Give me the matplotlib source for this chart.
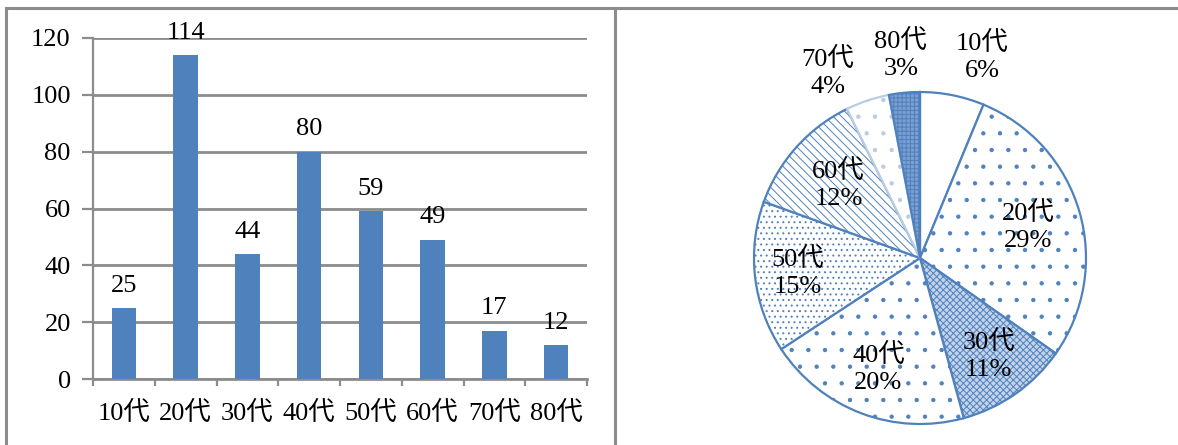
import numpy as np
import matplotlib
matplotlib.use('Agg')
import matplotlib.pyplot as plt
from matplotlib.lines import Line2D

# age groups and respondent counts
ages   = ['10代', '20代', '30代', '40代', '50代', '60代', '70代', '80代']
counts = [25, 114, 44, 80, 59, 49, 17, 12]
yticks = [0, 20, 40, 60, 80, 100, 120]

FONT = ['Liberation Serif', 'Noto Sans CJK JP', 'DejaVu Sans']
plt.rcParams['font.family'] = FONT
plt.rcParams['hatch.linewidth'] = 0.7

BLUE = '#4F81BD'
GRID = '#8c8c8c'
FS = 19

W, H = 1178, 445
fig = plt.figure(figsize=(W / 100, H / 100), dpi=100)

# outer frame lines around the two panels
for xs, ys in [((6, 1178), (8, 8)), ((6, 6), (8, 445)), ((615, 615), (8, 445))]:
    fig.add_artist(Line2D([x / W for x in xs], [1 - y / H for y in ys],
                          color=GRID, lw=2.2, transform=fig.transFigure))

# ---- bar chart ----
ax = fig.add_axes([93 / W, 1 - 379 / H, (587 - 93) / W, (379 - 38) / H])
x = np.arange(len(ages))
ax.bar(x, counts, width=0.4, color=BLUE, zorder=3)
ax.set_xlim(-0.5, len(ages) - 0.5)
ax.set_ylim(0, 120)
ax.set_yticks(yticks)
ax.set_yticklabels([str(v) for v in yticks], fontsize=FS)
ax.tick_params(axis='y', length=8, width=1.6, color=GRID, pad=8)
ax.yaxis.grid(True, color=GRID, lw=2, zorder=0)
ax.set_xticks(np.arange(len(ages) + 1) - 0.5)
ax.set_xticklabels([])
ax.tick_params(axis='x', length=5, width=1.6, color=GRID)
for i, a in enumerate(ages):
    ax.text(i, -12, a, ha='center', va='center', fontsize=FS)
for i, v in enumerate(counts):
    ax.text(i, v + 4, str(v), ha='center', va='bottom', fontsize=FS)
for s in ['top', 'right']:
    ax.spines[s].set_visible(False)
ax.spines['left'].set_color(GRID)
ax.spines['left'].set_linewidth(1.6)
ax.spines['bottom'].set_color(GRID)
ax.spines['bottom'].set_linewidth(2)

# ---- pie chart ----
cx, cy, r = 920, 258, 166
ax2 = fig.add_axes([(cx - r) / W, 1 - (cy + r) / H, 2 * r / W, 2 * r / H])
wedges, _ = ax2.pie(counts, startangle=90, counterclock=False, radius=1,
                    wedgeprops=dict(linewidth=1.6, edgecolor=BLUE, facecolor='white'))
ax2.set_xlim(-1, 1)
ax2.set_ylim(-1, 1)
ax2.set_aspect('auto')
ax2.axis('off')

hatches = [None, '.', 'xxxxx', '.', '...', '\\\\\\\\', '.', '++++']
faces = ['white', 'white', '#c3d3ea', 'white', 'white', 'white', 'white', '#7a9fd0']
edges = [BLUE, BLUE, BLUE, BLUE, BLUE, BLUE, '#b8cce4', BLUE]
for w, h, fc, ec in zip(wedges, hatches, faces, edges):
    w.set_facecolor(fc)
    w.set_edgecolor(ec)
    if h:
        w.set_hatch(h)

total = sum(counts)
dists = [1.27, 0.68, 0.72, 0.71, 0.74, 0.66, 1.25, 1.23]
nudge = [-6, 0, 0, 0, 0, 0, 8, 0]
for w, a, v, d, n in zip(wedges, ages, counts, dists, nudge):
    ang = np.deg2rad((w.theta1 + w.theta2) / 2 + n)
    # round half up on exact integers
    pct = (v * 200 + total) // (2 * total)
    ax2.text(d * np.cos(ang), d * np.sin(ang), f'{a}\n{pct}%',
             ha='center', va='center', fontsize=FS, linespacing=1.3)

fig.savefig('out.png', dpi=100)
